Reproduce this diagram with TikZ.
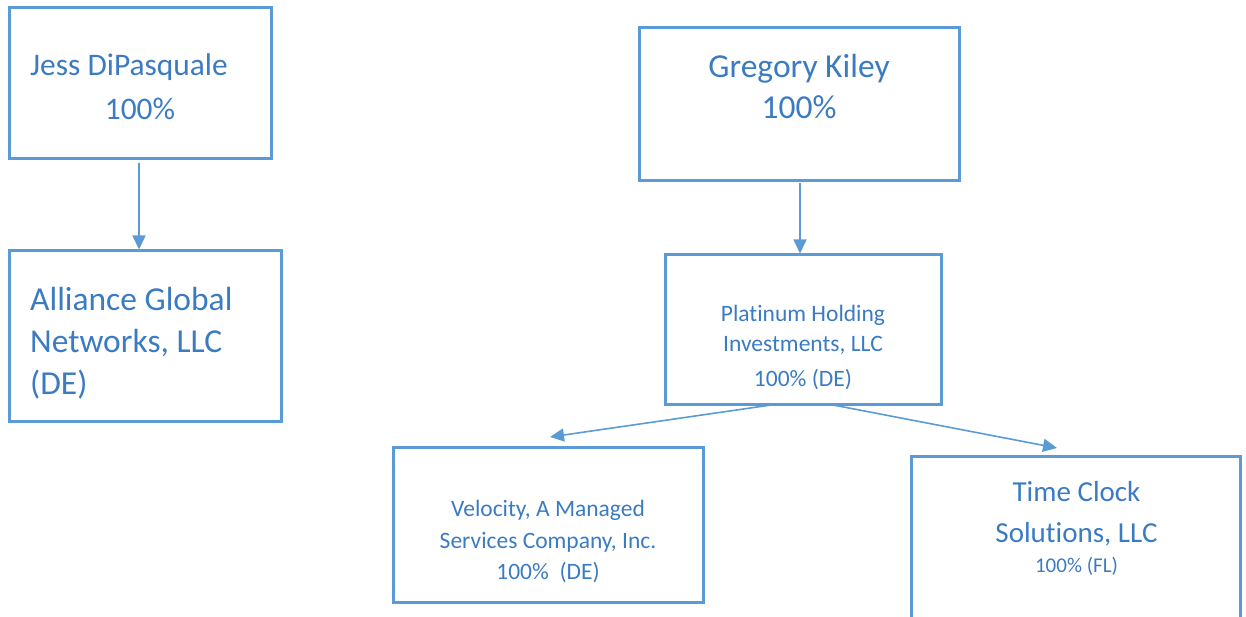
\documentclass[tikz,border=0pt]{standalone}
\usepackage{fontspec}
\setmainfont{Carlito}[Ligatures=NoCommon]
\usetikzlibrary{arrows.meta}
\definecolor{boxblue}{HTML}{5B9BD5}
\definecolor{txtblue}{HTML}{3B7BC2}
\tikzset{
  orgbox/.style={draw=boxblue, line width=3pt, fill=none, inner sep=0pt},
  lbl/.style={text=txtblue, inner sep=0pt, anchor=base},
  lblw/.style={text=txtblue, inner sep=0pt, anchor=base west},
  conn/.style={draw=boxblue, line width=1.6pt, -{Triangle[length=14pt,width=13pt]}},
}
\begin{document}
\begin{tikzpicture}[x=1pt,y=1pt]
\useasboundingbox (0,0) rectangle (1246,-617);
\clip (0,0) rectangle (1246,-617);
% boxes
\node[orgbox, minimum width=262pt, minimum height=151pt] (jess) at (140,-83) {};
\node[orgbox, minimum width=272pt, minimum height=170pt] (alliance) at (145,-336) {};
\node[orgbox, minimum width=320pt, minimum height=153pt] (greg) at (799,-104.5) {};
\node[orgbox, minimum width=276pt, minimum height=149pt] (plat) at (803,-329.5) {};
\node[orgbox, minimum width=310pt, minimum height=155pt] (vel) at (548,-524.5) {};
\node[orgbox, minimum width=329pt, minimum height=184pt] (tcs) at (1075.5,-548) {};
% texts
\node[lblw, font=\fontsize{31.4}{36}\selectfont] (t1) at (30,-76) {Jess DiPasquale};
\node[lbl, font=\fontsize{31.4}{36}\selectfont] (t2) at (140,-120) {100\%};
\node[lblw, font=\fontsize{33.5}{40}\selectfont] (t3) at (30,-310) {Alliance Global};
\node[lblw, font=\fontsize{33.5}{40}\selectfont] (t4) at (30,-352) {Networks, LLC};
\node[lblw, font=\fontsize{33.5}{40}\selectfont] (t5) at (30,-394) {(DE)};
\node[lbl, font=\fontsize{33.5}{40}\selectfont] (t6) at (799,-78) {Gregory Kiley};
\node[lbl, font=\fontsize{33.5}{40}\selectfont] (t7) at (799,-119) {100\%};
\node[lbl, font=\fontsize{23.5}{28}\selectfont] (t8) at (803,-321.5) {Platinum Holding};
\node[lbl, font=\fontsize{23.5}{28}\selectfont] (t9) at (803,-351.5) {Investments, LLC};
\node[lbl, font=\fontsize{23.5}{28}\selectfont] (t10) at (803,-386.5) {100\% (DE)};
\node[lbl, font=\fontsize{23.5}{28}\selectfont] (t11) at (548,-516) {Velocity, A Managed};
\node[lbl, font=\fontsize{23.5}{28}\selectfont] (t12) at (548,-548) {Services Company, Inc.};
\node[lbl, font=\fontsize{23.5}{28}\selectfont] (t13) at (548,-579) {100\%\ \ (DE)};
\node[lbl, font=\fontsize{29}{34}\selectfont] (t14) at (1076.5,-501) {Time Clock};
\node[lbl, font=\fontsize{29}{34}\selectfont] (t15) at (1076.5,-542) {Solutions, LLC};
\node[lbl, font=\fontsize{21}{25}\selectfont] (t16) at (1076.5,-572) {100\% (FL)};
% connectors
\coordinate (jessout) at (139,-163);
\coordinate (gregout) at (800,-183);
\coordinate (platL) at (778,-404);
\coordinate (platR) at (828,-404);
\draw[conn] (jessout) -- (jessout |- alliance.north);
\draw[conn] (gregout) -- (gregout |- plat.north);
\draw[conn] (platL) -- (550,-437);
\draw[conn] (platR) -- (1057,-448);
\end{tikzpicture}
\end{document}
